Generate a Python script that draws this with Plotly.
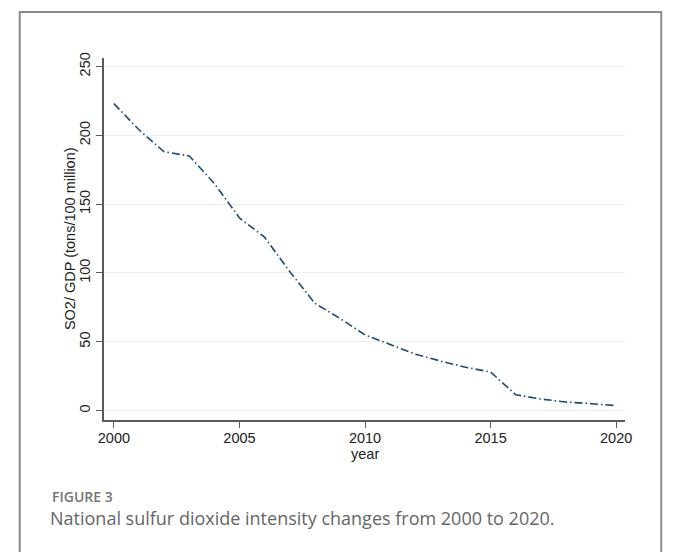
import plotly.graph_objects as go

years = list(range(2000, 2021))
so2_gdp = [223, 204, 188, 185, 165, 140, 126, 101, 78, 67, 55,
           48, 41, 36, 31.5, 28, 11.5, 8.4, 6.2, 5, 3.6]
x_ticks = [2000, 2005, 2010, 2015, 2020]
y_ticks = [0, 50, 100, 150, 200, 250]

W, H = 681, 552
def px(x):
    return x / W
def py(y):
    return 1 - y / H

fig = go.Figure()
fig.add_trace(go.Scatter(
    x=years, y=so2_gdp, mode="lines",
    line=dict(color="#1d4a73", width=1.6, dash="8px,3px,1.5px,3px"),
    showlegend=False, hoverinfo="skip"))

axis_col = "#5a5a5a"
tick_font = dict(family="Liberation Sans, Arial, sans-serif", size=14.5, color="#222")
fig.update_layout(
    width=W, height=H, autosize=False,
    margin=dict(l=0, r=0, t=0, b=0),
    paper_bgcolor="white", plot_bgcolor="white",
    xaxis=dict(
        domain=[px(100), px(631)], range=[1999.61, 2020.35],
        tickvals=x_ticks, ticktext=[str(v) for v in x_ticks],
        ticks="outside", ticklen=6, tickwidth=1.2, tickcolor=axis_col,
        showline=True, linecolor=axis_col, linewidth=2,
        showgrid=False, zeroline=False, tickfont=tick_font,
        ticklabelstandoff=-3,
        anchor="y",
    ),
    yaxis=dict(
        domain=[py(419), py(53)], range=[-7.0, 256.5],
        tickvals=y_ticks, ticktext=[str(v) for v in y_ticks],
        ticks="outside", ticklen=6, tickwidth=1.2, tickcolor=axis_col,
        showline=True, linecolor=axis_col, linewidth=2,
        showgrid=True, gridcolor="#e8f1f2", gridwidth=1,
        zeroline=False, tickangle=-90, tickfont=tick_font,
        anchor="x",
    ),
    shapes=[dict(type="rect", xref="paper", yref="paper",
                 x0=px(14), x1=px(668), y0=py(575), y1=py(7),
                 line=dict(color="#8a8a8a", width=2), fillcolor="rgba(0,0,0,0)",
                 layer="below")],
    annotations=[
        dict(text="year", xref="x", yref="paper", x=2010, y=py(453),
             xanchor="center", yanchor="middle", showarrow=False, font=tick_font),
        dict(text="SO2/ GDP (tons/100 million)", xref="paper", yref="paper",
             x=px(65.5), y=py(236), textangle=-90,
             xanchor="center", yanchor="middle", showarrow=False, font=tick_font),
        dict(text="FIGURE 3", xref="paper", yref="paper", x=px(45), y=py(496),
             xanchor="left", yanchor="middle", showarrow=False,
             font=dict(family="Open Sans, Noto Sans, sans-serif", size=14,
                       color="#757575", weight=600)),
        dict(text="National sulfur dioxide intensity changes from 2000 to 2020.",
             xref="paper", yref="paper", x=px(43), y=py(518),
             xanchor="left", yanchor="middle", showarrow=False,
             font=dict(family="Open Sans, Noto Sans, sans-serif", size=18, color="#666666")),
    ],
)
fig.write_html("out.html", config={"displayModeBar": False},
               post_script="document.body.style.margin='0';document.body.style.overflow='hidden';")
